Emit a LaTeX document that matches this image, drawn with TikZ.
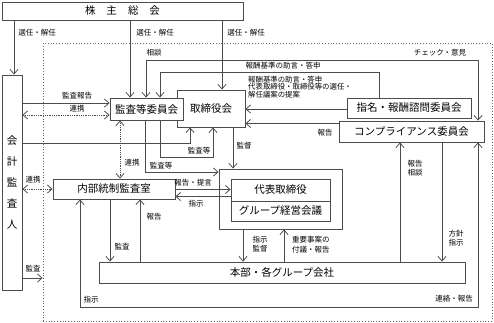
\documentclass[tikz,border=0pt]{standalone}
\usepackage{fontspec}
\setmainfont{Noto Sans CJK JP}
\usetikzlibrary{arrows.meta}

\begin{document}
\begin{tikzpicture}[
    x=1pt, y=-1pt,
    >={Straight Barb[length=4.5pt,width=8pt]},
    box/.style={draw=black!70, line width=0.9pt, fill=white, inner sep=0pt,
                font=\fontsize{10.5}{12}\selectfont},
    lbl/.style={inner sep=0pt, align=center, font=\fontsize{7.5}{9.5}\selectfont},
    arr/.style={->, draw=black!70, line width=0.8pt},
    link/.style={arr, <->, densely dotted}
]
    \useasboundingbox (0,0) rectangle (494,322);
    % Dotted frame round the company
    \node[draw=black!60, dotted, line width=0.8pt, inner sep=0pt,
          minimum width=449pt, minimum height=278pt] (frame) at (267.5,182) {};
    % Boxes
    \node[box, minimum width=241pt, minimum height=18pt] (meeting) at (122.5,11)
        {株\hspace{11pt}主\hspace{11pt}総\hspace{11pt}会};
    \node[box, minimum width=20pt, minimum height=215pt, align=center,
          font=\fontsize{10.5}{21}\selectfont] (auditor) at (12,182.5)
        {会\\計\\監\\査\\人};
    \node[box, minimum width=68pt, minimum height=37pt] (board) at (211,108.5) {取締役会};
    \node[box, minimum width=73pt, minimum height=22pt] (audit) at (146.5,109) {監査等委員会};
    \node[box, minimum width=124pt, minimum height=20pt] (nomination) at (409,108) {指名・報酬諮問委員会};
    \node[box, minimum width=145pt, minimum height=21pt] (compliance) at (411.5,131.5) {コンプライアンス委員会};
    \node[box, minimum width=122pt, minimum height=20pt] (internal) at (114,189) {内部統制監査室};
    \node[box, minimum width=123pt, minimum height=60pt] (exec) at (280.5,199) {};
    \node[box, minimum width=99pt, minimum height=22pt] (president) at (280.5,190) {代表取締役};
    \node[box, minimum width=99pt, minimum height=20pt] (council) at (280.5,211) {グループ経営会議};
    \node[box, minimum width=366pt, minimum height=21pt] (group) at (282,272.5) {本部・各グループ会社};
    % From the shareholders' meeting
    \draw[arr] (meeting.south -| 14,0) -- (auditor.north -| 14,0);
    \node[lbl] (l1) at (37,33) {選任・解任};
    \draw[arr] (meeting.south -| 130,0) -- (audit.north -| 130,0);
    \node[lbl] (l2) at (155,33) {選任・解任};
    \draw[arr] (meeting.south -| 222,0) -- (board.north -| 222,0);
    \node[lbl] (l3) at (246,33) {選任・解任};
    % Compliance committee and audit committee
    \draw[arr, <->] (audit.north -| 146,0) -- (146,60) -- (478,60) -- (compliance.north -| 478,0);
    \node[lbl] (l4) at (154,53) {相談};
    \node[lbl] (l5) at (440,53) {チェック・意見};
    % Nomination committee
    \draw[arr] (nomination.north -| 379,0) -- (379,72) -- (160,72) -- (audit.north -| 160,0);
    \node[lbl] (l6) at (283,66) {報酬基準の助言・答申};
    \draw[arr] (nomination.west |- 0,109) -- (board.east |- 0,109);
    \node[lbl, align=left, anchor=west, font=\fontsize{7.4}{7.4}\selectfont] (l7) at (248,87)
        {報酬基準の助言・答申\\代表取締役・取締役等の選任・\\解任議案の提案};
    \draw[arr] (compliance.west |- 0,123.5) -- (board.east |- 0,123.5);
    \node[lbl] (l8) at (325,133) {報告};
    % Accounting auditor
    \draw[arr] (auditor.east |- 0,103) -- (audit.west |- 0,103);
    \node[lbl] (l9) at (77,95.5) {監査報告};
    \draw[link] (auditor.east |- 0,115) -- (audit.west |- 0,115);
    \node[lbl] (l10) at (77,109) {連携};
    \draw[arr] (auditor.east |- 0,143) -- (190,143) -- (board.south -| 190,0);
    \draw[link] (auditor.east |- 0,189) -- (internal.west |- 0,189);
    \node[lbl] (l11) at (33,180) {連携};
    \draw[arr] (auditor.east |- 0,278) -- (frame.west |- 0,278);
    \node[lbl] (l12) at (33,269) {監査};
    % Audit committee
    \draw[arr] (audit.south -| 160,0) -- (160,157) -- (213,157) -- (board.south -| 213,0);
    \node[lbl] (l13) at (199,150.5) {監査等};
    \draw[arr] (audit.south -| 145,0) -- (145,172) -- (exec.west |- 0,172);
    \node[lbl] (l14) at (161,166) {監査等};
    \draw[link] (audit.south -| 120,0) -- (internal.north -| 120,0);
    \node[lbl] (l15) at (132,163) {連携};
    % Board and executives
    \draw[arr] (board.south -| 233,0) -- (exec.north -| 233,0);
    \node[lbl] (l16) at (244,146) {監督};
    \draw[arr] (internal.east |- 0,189.5) -- (president.west |- 0,189.5);
    \node[lbl] (l17) at (193,183) {報告・提言};
    \draw[arr] (president.west |- 0,196.5) -- (internal.east |- 0,196.5);
    \node[lbl] (l18) at (196,203.5) {指示};
    % Internal audit office and group companies
    \draw[arr] (internal.south -| 110,0) -- (group.north -| 110,0);
    \node[lbl] (l19) at (122,247) {監査};
    \draw[arr] (group.north -| 140,0) -- (internal.south -| 140,0);
    \node[lbl] (l20) at (154,217) {報告};
    \draw[arr, <->] (internal.south -| 80,0) -- (80,307) -- (478,307) -- (compliance.south -| 478,0);
    \node[lbl] (l21) at (91,300) {指示};
    \node[lbl] (l22) at (454,299) {連絡・報告};
    % Executives and group companies
    \draw[arr] (exec.south -| 243,0) -- (group.north -| 243,0);
    \node[lbl] (l23) at (260,244) {指示\\監督};
    \draw[arr] (group.north -| 284,0) -- (exec.south -| 284,0);
    \node[lbl, align=left, anchor=west] (l24) at (292,244.5) {重要事案の\\付議・報告};
    % Compliance committee and group companies
    \draw[arr] (group.north -| 400,0) -- (compliance.south -| 400,0);
    \node[lbl] (l25) at (415,168) {報告\\相談};
    \draw[arr] (compliance.south -| 442,0) -- (group.north -| 442,0);
    \node[lbl] (l26) at (456,238) {方針\\指示};
\end{tikzpicture}
\end{document}
